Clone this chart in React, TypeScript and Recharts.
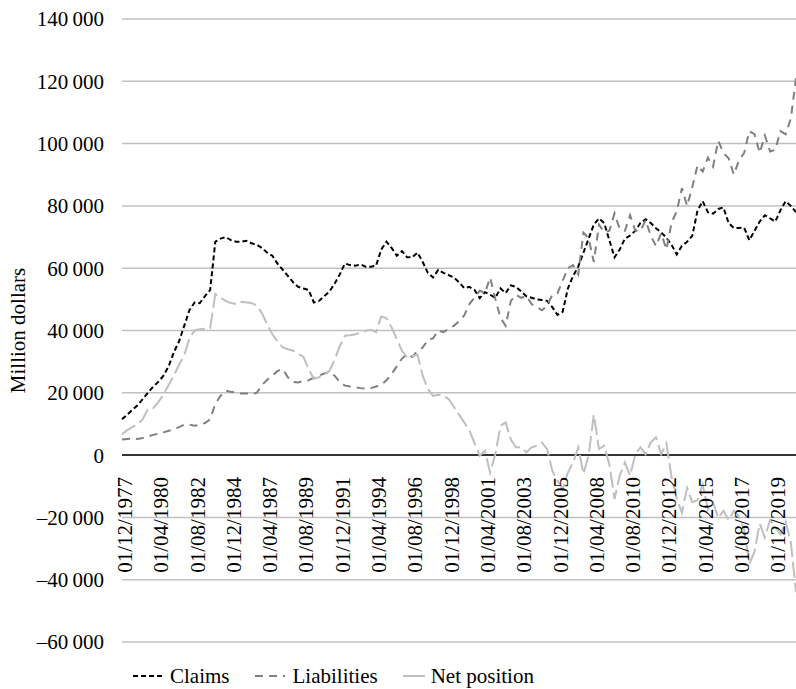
import React from 'react';
import { LineChart, Line, XAxis, YAxis, CartesianGrid, ReferenceLine, Label } from 'recharts';

// Observation dates: every four months from December 1977
const periods: string[] = [];
for (let i = 0; i < 131; i++) {
  const m = 11 + i * 4;
  const month = (m % 12) + 1;
  const year = 1977 + Math.floor(m / 12);
  periods.push(`01/${String(month).padStart(2, '0')}/${year}`);
}

const claims = [
  11500, 13000, 14500, 16000, 18000, 20000, 22000, 23500, 25500, 28500,
  33000, 36500, 41500, 46500, 49000, 48800, 51000, 53000, 68500, 69500,
  70000, 69000, 68500, 68500, 68800, 68000, 67500, 66500, 65000, 64000,
  61500, 59500, 57500, 55500, 54000, 53500, 53000, 49000, 49500, 51000,
  52500, 55000, 58000, 61500, 61000, 60800, 61200, 60500, 60500, 60800,
  66000, 68500, 66500, 64000, 65500, 63500, 63500, 65000, 62000, 58500,
  57000, 59500, 58500, 57800, 57000, 55500, 53600, 54000, 53000, 50400,
  52300, 51500, 50500, 53500, 52000, 54500, 54000, 52500, 51000, 50500,
  50000, 49800, 49500, 47500, 45000, 46000, 53500, 57500, 60500, 65000,
  69500, 74000, 76000, 74500, 69000, 63500, 66000, 69500, 70500, 72000,
  74500, 75700, 74500, 72800, 71500, 69800, 67500, 64400, 67200, 68500,
  70400, 78500, 81500, 78000, 77500, 79000, 79500, 74500, 72900, 72900,
  73000, 69000, 72000, 75000, 77000, 76000, 75000, 78600, 81500, 80000, 78000,
];

const liabilities = [
  5000, 5200, 5300, 5200, 5500, 6000, 6500, 6800, 7300, 7800,
  8300, 9000, 9800, 9800, 9400, 9700, 10300, 11500, 16500, 19000,
  20700, 20300, 20100, 19800, 19800, 19600, 20000, 22500, 24200, 25500,
  27000, 27600, 25000, 23500, 23300, 23800, 24000, 24900, 25500, 26200,
  26500, 25500, 23500, 22300, 22000, 21800, 21500, 21300, 21500, 22000,
  22500, 24000, 26000, 28500, 31000, 32500, 31500, 33500, 34500, 37000,
  37500, 40000, 39500, 40500, 41500, 43000, 44800, 48500, 50600, 52800,
  52000, 57000, 50200, 44100, 41500, 49500, 51500, 50500, 51100, 48500,
  47500, 46500, 48000, 51500, 52000, 56000, 60000, 61000, 58000, 71400,
  69700, 62000, 74000, 71500, 72000, 77600, 72600, 72000, 77000, 72000,
  72000, 75400, 70400, 67100, 71200, 66000, 74600, 78300, 85700, 80000,
  86000, 93000, 91000, 95500, 92600, 100900, 97000, 95300, 90100, 94600,
  97000, 104000, 103000, 97000, 102600, 97500, 98000, 104000, 103000, 108000, 121000,
];

const netPosition = [
  6700, 8000, 9000, 9800, 11500, 14800, 15000, 17000, 19500, 22500,
  25500, 29000, 32000, 37500, 40000, 40400, 40600, 40700, 51700, 50500,
  49500, 48800, 48500, 49200, 49000, 48800, 48000, 45500, 42000, 38800,
  36500, 34600, 34000, 33500, 32500, 31500, 27500, 24500, 25000, 26000,
  27000, 30500, 35000, 38300, 38500, 38800, 39300, 39900, 40200, 39500,
  44500, 44000, 41000, 37200, 33500, 31400, 31800, 32200, 25500, 21200,
  19000, 19400, 19000, 18000, 15500, 13000, 10500, 8000, 3800, -200,
  1400, -5600, 300, 9400, 10500, 5000, 2500, 2500, 900, 2500,
  3000, 4000, 1900, -5000, -8200, -10900, -5600, -2400, 2500, -6000,
  -200, 13000, 2000, 3000, -3000, -14100, -6600, -2400, -6600, 300,
  2500, 300, 4100, 5700, 300, 3800, -7100, -13900, -18500, -10500,
  -15100, -14500, -9400, -17400, -15100, -20200, -17900, -20800, -17900, -19700,
  -24000, -35000, -31000, -22000, -26500, -20800, -23100, -25400, -21400, -28000, -44000,
];

const yTicks = [-60000, -40000, -20000, 0, 20000, 40000, 60000, 80000, 100000, 120000, 140000];

const data = periods.map((date, i) => ({
  date,
  claims: claims[i],
  liabilities: liabilities[i],
  net: netPosition[i],
}));

const FONT = '"Liberation Serif", "Times New Roman", Times, "DejaVu Serif", serif';
const Y_MIN = -60000;
const Y_MAX = 140000;
const PLOT_TOP = 19;
const PLOT_BOTTOM = 642;
// distance from the bottom of the plot up to the zero line
const ZERO_OFFSET = ((PLOT_BOTTOM - PLOT_TOP) * (0 - Y_MIN)) / (Y_MAX - Y_MIN);

const formatThousands = (v: number) => {
  const s = Math.abs(v).toString().replace(/\B(?=(\d{3})+(?!\d))/g, '\u2009');
  return v < 0 ? `\u2013${s}` : s;
};

// date labels sit just under the zero line, reading upwards
const DateTick = (props: any) => {
  const { x, y, payload } = props;
  return (
    <text
      transform={`translate(${x + 10},${y - ZERO_OFFSET + 22}) rotate(-90)`}
      textAnchor="end"
      fontSize={21}
      style={{ fontFamily: FONT }}
      fill="#000"
    >
      {payload.value}
    </text>
  );
};

const legendItems = [
  { name: 'Claims', color: '#000000', dash: '5 3', width: 32, gap: 5 },
  { name: 'Liabilities', color: '#808080', dash: '8 6', width: 30, gap: 8 },
  { name: 'Net position', color: '#bfbfbf', dash: '', width: 22, gap: 6 },
];

export default function App() {
  return (
    <div style={{ position: 'fixed', left: 0, top: 0, width: 796, height: 689, background: '#fff', fontFamily: FONT }}>
      <LineChart width={796} height={689} data={data} margin={{ top: PLOT_TOP, right: 0, bottom: 0, left: 0 }}>
        <CartesianGrid vertical={false} stroke="#c0c0c0" strokeWidth={1.5} />
        <XAxis
          dataKey="date"
          height={689 - PLOT_BOTTOM}
          interval={6}
          tickLine={false}
          axisLine={false}
          tickSize={0}
          tickMargin={0}
          tick={<DateTick />}
        />
        <YAxis
          domain={[Y_MIN, Y_MAX]}
          ticks={yTicks}
          width={122}
          tickLine={false}
          axisLine={false}
          tickSize={0}
          tickMargin={18}
          tickFormatter={formatThousands}
          tick={{ fontSize: 21, fill: '#000', style: { fontFamily: FONT } }}
        >
          <Label
            content={({ viewBox }: any) => {
              const cy = viewBox.y + viewBox.height / 2;
              return (
                <text
                  transform={`translate(25,${cy}) rotate(-90)`}
                  textAnchor="middle"
                  fontSize={21}
                  style={{ fontFamily: FONT }}
                  fill="#000"
                >
                  Million dollars
                </text>
              );
            }}
          />
        </YAxis>
        <ReferenceLine y={0} stroke="#000" strokeWidth={1.5} />
        <Line type="linear" dataKey="claims" stroke="#000000" strokeWidth={2} strokeDasharray="5 3" dot={false} isAnimationActive={false} />
        <Line type="linear" dataKey="liabilities" stroke="#808080" strokeWidth={2} strokeDasharray="8 6" dot={false} isAnimationActive={false} />
        <Line type="linear" dataKey="net" stroke="#bfbfbf" strokeWidth={2} strokeDasharray="16 5" dot={false} isAnimationActive={false} />
      </LineChart>
      <div style={{ position: 'absolute', left: 133, top: 664, display: 'flex', alignItems: 'center', fontSize: 21, color: '#000', lineHeight: '24px' }}>
        {legendItems.map((item, i) => (
          <div key={item.name} style={{ display: 'flex', alignItems: 'center', marginLeft: i === 0 ? 0 : 25 }}>
            <svg width={item.width} height={10} style={{ marginRight: item.gap }}>
              <line x1={0} y1={5} x2={item.width} y2={5} stroke={item.color} strokeWidth={2} strokeDasharray={item.dash || undefined} />
            </svg>
            <span>{item.name}</span>
          </div>
        ))}
      </div>
    </div>
  );
}
